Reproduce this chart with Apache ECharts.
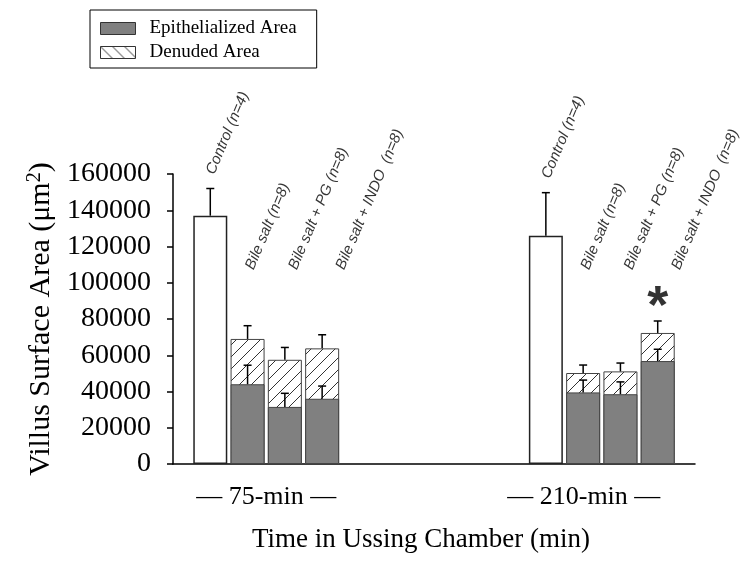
<!DOCTYPE html>
<html>
<head>
<meta charset="utf-8">
<script src="https://cdn.jsdelivr.net/npm/echarts@6/dist/echarts.min.js"></script>
<style>
  html, body { margin: 0; padding: 0; background: #fff; }
  #main { width: 750px; height: 567px; }
</style>
</head>
<body>
<div id="main"></div>
<script>
// bar positions on the x scale (two groups of four)
var xPos = [1, 2, 3, 4, 10, 11, 12, 13];
var barNames = ['Control (n=4)', 'Bile salt (n=8)', 'Bile salt + PG (n=8)', 'Bile salt + INDO  (n=8)',
                'Control (n=4)', 'Bile salt (n=8)', 'Bile salt + PG (n=8)', 'Bile salt + INDO  (n=8)'];
var groupNames = ['75-min', '210-min'];
var groupDashes = ['— 75-min —', '— 210-min —'];

// villus surface area (um2)
var controlArea = [137000, null, null, null, 126000, null, null, null];
var controlErr  = [15000, null, null, null, 23700, null, null, null];
var epiArea     = [null, 44000, 31500, 36000, null, 39500, 38500, 56800];
var epiErr      = [null, 10500, 7500, 7000, null, 6800, 6800, 6500];
var denudedArea = [null, 25000, 26000, 27800, null, 10700, 12600, 15500];
var denudedErr  = [null, 7300, 6800, 7500, null, 4400, 4600, 6600];
var significant = [false, false, false, false, false, false, false, true];

var yTicks = [0, 20000, 40000, 60000, 80000, 100000, 120000, 140000, 160000];
var labelBase = 106000;

var serif = 'Liberation Serif';
var labelAngle = 67;
// screen shift (px) of the slanted labels for each slot within a group
var labelShift = [[7, -12], [9, 0], [15, 0], [25, 0]];
var groupPad = [0, 36];

function hatch(dir) {
	var s = 12, c = document.createElement('canvas');
	c.width = s; c.height = s;
	var g = c.getContext('2d');
	g.fillStyle = '#fff';
	g.fillRect(0, 0, s, s);
	g.strokeStyle = '#333';
	g.lineWidth = 1;
	g.beginPath();
	if (dir === '/') {
		g.moveTo(0, s); g.lineTo(s, 0);
		g.moveTo(-2, 2); g.lineTo(2, -2);
		g.moveTo(s - 2, s + 2); g.lineTo(s + 2, s - 2);
	} else {
		g.moveTo(0, 0); g.lineTo(s, s);
		g.moveTo(-2, s - 2); g.lineTo(2, s + 2);
		g.moveTo(s - 2, -2); g.lineTo(s + 2, 2);
	}
	g.stroke();
	return c;
}

function pairs(arr) {
	return arr.map(function (v, i) { return [xPos[i], v == null ? '-' : v]; });
}

// screen shift -> offset in the rotated label frame
function rotOffset(d) {
	var r = labelAngle * Math.PI / 180, c = Math.cos(r), s = Math.sin(r);
	return [d[0] * c - d[1] * s, d[0] * s + d[1] * c];
}

// top of the stacked bar = epithelialized + denuded
var totalArea = epiArea.map(function (v, i) { return v == null ? null : v + denudedArea[i]; });

var errData = [];
xPos.forEach(function (x, i) {
	if (controlArea[i] != null) errData.push([x, controlArea[i], controlArea[i] + controlErr[i]]);
	if (epiArea[i] != null) {
		errData.push([x, epiArea[i], epiArea[i] + epiErr[i]]);
		errData.push([x, totalArea[i], totalArea[i] + denudedErr[i]]);
	}
});

var labelData = xPos.map(function (x, i) {
	var isCtl = controlArea[i] != null;
	return {
		value: [x, isCtl ? controlArea[i] + controlErr[i] : labelBase],
		name: barNames[i],
		label: { offset: rotOffset(labelShift[i % 4]) }
	};
});

var starData = [];
xPos.forEach(function (x, i) {
	if (significant[i]) starData.push([x, totalArea[i] + denudedErr[i]]);
});

var groupCenters = groupNames.map(function (n, k) {
	return (xPos[k * 4] + xPos[k * 4 + 3]) / 2;
});

var chart = echarts.init(document.getElementById('main'));
chart.setOption({
	animation: false,
	legend: {
		orient: 'vertical',
		left: 90,
		top: 10,
		padding: [9, 20, 6, 10],
		itemWidth: 35,
		itemHeight: 12,
		itemGap: 5,
		borderColor: '#000',
		borderWidth: 1,
		icon: 'rect',
		textStyle: { fontFamily: serif, fontSize: 19, lineHeight: 19, color: '#000', padding: [0, 0, 0, 9] },
		data: [
			{ name: 'Epithelialized Area', itemStyle: { color: '#808080', borderColor: '#333', borderWidth: 1 } },
			{ name: 'Denuded Area', itemStyle: { color: { image: hatch('\\'), repeat: 'repeat' }, borderColor: '#333', borderWidth: 1 } }
		]
	},
	grid: { left: 173, right: 55, top: 174, bottom: 103 },
	xAxis: {
		type: 'value',
		min: 0,
		max: 14,
		interval: 0.5,
		splitLine: { show: false },
		axisTick: { show: false },
		axisLine: { lineStyle: { color: '#000', width: 1.5 } },
		axisLabel: {
			margin: 20,
			fontFamily: serif,
			fontSize: 26,
			color: '#000',
			formatter: function (v) {
				var k = groupCenters.indexOf(v);
				return k >= 0 ? '{g' + k + '|' + groupDashes[k] + '}' : '';
			},
			rich: {
				g0: { fontFamily: serif, fontSize: 26, color: '#000', padding: [0, groupPad[0], 0, 0] },
				g1: { fontFamily: serif, fontSize: 26, color: '#000', padding: [0, groupPad[1], 0, 0] }
			}
		},
		name: 'Time in Ussing Chamber (min)',
		nameLocation: 'middle',
		nameGap: 62,
		nameTextStyle: { fontFamily: serif, fontSize: 27, color: '#000', padding: [0, 26, 0, 0] }
	},
	yAxis: {
		type: 'value',
		min: yTicks[0],
		max: yTicks[yTicks.length - 1],
		interval: yTicks[1] - yTicks[0],
		splitLine: { show: false },
		axisLine: { show: true, lineStyle: { color: '#000', width: 1.5 } },
		axisTick: { show: true, length: 6, lineStyle: { color: '#000', width: 1.5 } },
		axisLabel: {
			margin: 22, fontFamily: serif, fontSize: 28, color: '#000',
			formatter: function (v) { return String(v); }
		},
		name: '{n|Villus Surface Area (μm}{s|2}{n|)}',
		nameLocation: 'middle',
		nameGap: 112,
		nameRotate: 90,
		nameTextStyle: {
			rich: {
				n: { fontFamily: serif, fontSize: 30, color: '#000' },
				s: { fontFamily: serif, fontSize: 20, color: '#000', verticalAlign: 'top', padding: [0, 0, 12, 0] }
			}
		}
	},
	series: [
		{
			name: 'Control',
			type: 'bar',
			barWidth: 34,
			barGap: '-100%',
			data: pairs(controlArea),
			itemStyle: { color: '#fff', borderColor: '#222', borderWidth: 1.5 }
		},
		{
			name: 'Denuded Area',
			type: 'bar',
			barWidth: 34,
			barGap: '-100%',
			data: pairs(totalArea),
			itemStyle: { color: { image: hatch('/'), repeat: 'repeat' }, borderColor: '#444', borderWidth: 1 }
		},
		{
			name: 'Epithelialized Area',
			type: 'bar',
			barWidth: 34,
			barGap: '-100%',
			data: pairs(epiArea),
			itemStyle: { color: '#808080', borderColor: '#444', borderWidth: 1 }
		},
		{
			name: 'errors',
			type: 'custom',
			z: 10,
			data: errData,
			renderItem: function (params, api) {
				var base = api.coord([api.value(0), api.value(1)]);
				var top = api.coord([api.value(0), api.value(2)]);
				var style = { stroke: '#000', lineWidth: 1.5 };
				return {
					type: 'group',
					children: [
						{ type: 'line', shape: { x1: base[0], y1: base[1], x2: top[0], y2: top[1] }, style: style },
						{ type: 'line', shape: { x1: top[0] - 4, y1: top[1], x2: top[0] + 4, y2: top[1] }, style: style }
					]
				};
			}
		},
		{
			name: 'labels',
			type: 'scatter',
			symbolSize: 0,
			data: labelData,
			label: {
				show: true,
				position: 'inside',
				rotate: labelAngle,
				align: 'left',
				verticalAlign: 'bottom',
				formatter: '{b}',
				fontFamily: 'Liberation Sans',
				fontStyle: 'italic',
				fontSize: 15,
				color: '#000'
			}
		},
		{
			name: 'sig',
			type: 'scatter',
			symbolSize: 0,
			data: starData,
			label: {
				show: true,
				position: 'top',
				distance: 0,
				offset: [0, 14],
				formatter: '*',
				fontFamily: 'Liberation Sans',
				fontWeight: 'bold',
				fontSize: 54,
				color: '#000'
			}
		}
	]
});
</script>
</body>
</html>
